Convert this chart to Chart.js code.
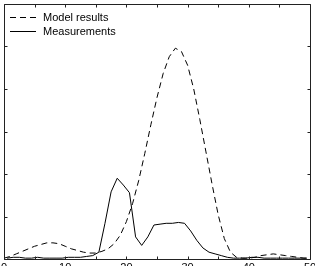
<!DOCTYPE html>
<html>
<head>
<meta charset="utf-8">
<script src="https://cdn.jsdelivr.net/npm/chart.js@4"></script>
<style>
html,body{margin:0;padding:0;background:#fff;overflow:hidden;width:315px;height:266px;}
canvas{display:block;}
</style>
</head>
<body>
<canvas id="c" width="315" height="280"></canvas>
<script>
// ---- data ----
const xModel = [0,1,2,3,4,5,6,7,8,9,10,11,12,13,14,15,16,17,18,19,20,21,22,23,24,25,26,27,28,29,30,31,32,33,34,35,36,37,38,39,40,41,42,43,44,45,46,47,48,49,50];
const modelResults = [0.01,0.03,0.06,0.09,0.12,0.15,0.17,0.19,0.19,0.18,0.15,0.12,0.10,0.08,0.07,0.07,0.09,0.12,0.18,0.28,0.44,0.65,0.92,1.24,1.58,1.90,2.18,2.38,2.48,2.44,2.28,2.00,1.64,1.26,0.88,0.52,0.24,0.08,0.02,0.01,0.01,0.02,0.04,0.05,0.06,0.05,0.04,0.03,0.02,0.01,0.01];
const xMeas = [0.5,1.5,2.5,3.5,4.5,5.5,6.5,7.5,8.5,9.5,10.5,11.5,12.5,13.5,14.5,15.5,16.5,17.5,18.5,19.5,20.5,21.5,22.5,23.5,24.5,25.5,26.5,27.5,28.5,29.5,30.5,31.5,32.5,33.5,34.5,35.5,36.5,37.5,38.5,39.5,40.5,41.5,42.5,43.5,44.5,45.5,46.5,47.5,48.5,49.5];
const measurements = [0.01,0.02,0.02,0.01,0.01,0.02,0.01,0.01,0.01,0.01,0.02,0.02,0.02,0.03,0.04,0.08,0.42,0.79,0.95,0.87,0.78,0.26,0.16,0.26,0.40,0.41,0.42,0.42,0.43,0.42,0.33,0.22,0.13,0.08,0.06,0.04,0.02,0.01,0.01,0.01,0.02,0.02,0.01,0.01,0.01,0.01,0.01,0.01,0.01,0.01];
const seriesNames = ["Model results", "Measurements"];
const xTickLabels = [0,10,20,30,40,50];
const xMinorTicks = [0,5,10,15,20,25,30,35,40,45,50];
const yTicks = [0,0.5,1,1.5,2,2.5,3];

const FONT = '"Liberation Sans", Arial, Helvetica, sans-serif';

const framePlugin = {
  id: 'frame',
  afterDraw(chart) {
    const ctx = chart.ctx, a = chart.chartArea;
    const xs = chart.scales.x, ys = chart.scales.y;
    const L = Math.floor(a.left) + 0.5, R = Math.floor(a.right) + 0.5;
    const T = Math.floor(a.top) + 0.5, B = Math.floor(a.bottom) + 0.5;
    ctx.save();
    ctx.strokeStyle = '#222';
    ctx.lineWidth = 1;
    ctx.setLineDash([]);
    ctx.beginPath();
    ctx.rect(L, T, R - L, B - T);
    xMinorTicks.forEach(v => {
      const px = Math.round(xs.getPixelForValue(v)) + 0.5;
      ctx.moveTo(px, B); ctx.lineTo(px, B - 3);
      ctx.moveTo(px, T); ctx.lineTo(px, T + 3);
    });
    yTicks.forEach(v => {
      const py = Math.round(ys.getPixelForValue(v)) + 0.5;
      ctx.moveTo(L, py); ctx.lineTo(L + 3, py);
      ctx.moveTo(R, py); ctx.lineTo(R - 3, py);
    });
    ctx.stroke();
    // legend
    const ds = chart.data.datasets;
    ctx.font = '11px ' + FONT;
    ctx.textBaseline = 'middle';
    ctx.fillStyle = '#000';
    const rows = [17.5, 31.5];
    ds.forEach((d, i) => {
      ctx.beginPath();
      ctx.setLineDash(d.borderDash || []);
      ctx.strokeStyle = d.borderColor;
      ctx.lineWidth = d.borderWidth;
      ctx.moveTo(10, rows[i]); ctx.lineTo(36, rows[i]);
      ctx.stroke();
      ctx.setLineDash([]);
      ctx.fillText(d.label, 43, rows[i]);
    });
    ctx.restore();
  }
};

new Chart(document.getElementById('c'), {
  type: 'line',
  data: {
    datasets: [
      {
        label: seriesNames[0],
        data: xModel.map((x, i) => ({x: x, y: modelResults[i]})),
        borderColor: '#000', borderWidth: 1, borderDash: [6, 4],
        pointRadius: 0, tension: 0, fill: false
      },
      {
        label: seriesNames[1],
        data: xMeas.map((x, i) => ({x: x, y: measurements[i]})),
        borderColor: '#000', borderWidth: 1,
        pointRadius: 0, tension: 0, fill: false
      }
    ]
  },
  options: {
    responsive: false,
    animation: false,
    layout: { padding: { left: 4, right: 5, top: 4, bottom: 0 } },
    plugins: { legend: { display: false }, tooltip: { enabled: false } },
    scales: {
      x: {
        type: 'linear', min: 0, max: 50,
        grid: { display: false, drawTicks: false },
        border: { display: false },
        ticks: {
          stepSize: 10, padding: 2, color: '#000', maxRotation: 0,
          font: { family: FONT, size: 11 },
          callback: (v) => xTickLabels.includes(v) ? String(v) : ''
        },
        afterFit: (s) => { s.height = 21; s.paddingLeft = 0; s.paddingRight = 0; }
      },
      y: {
        type: 'linear', min: 0, max: 3, display: false
      }
    }
  },
  plugins: [framePlugin]
});
</script>
</body>
</html>
